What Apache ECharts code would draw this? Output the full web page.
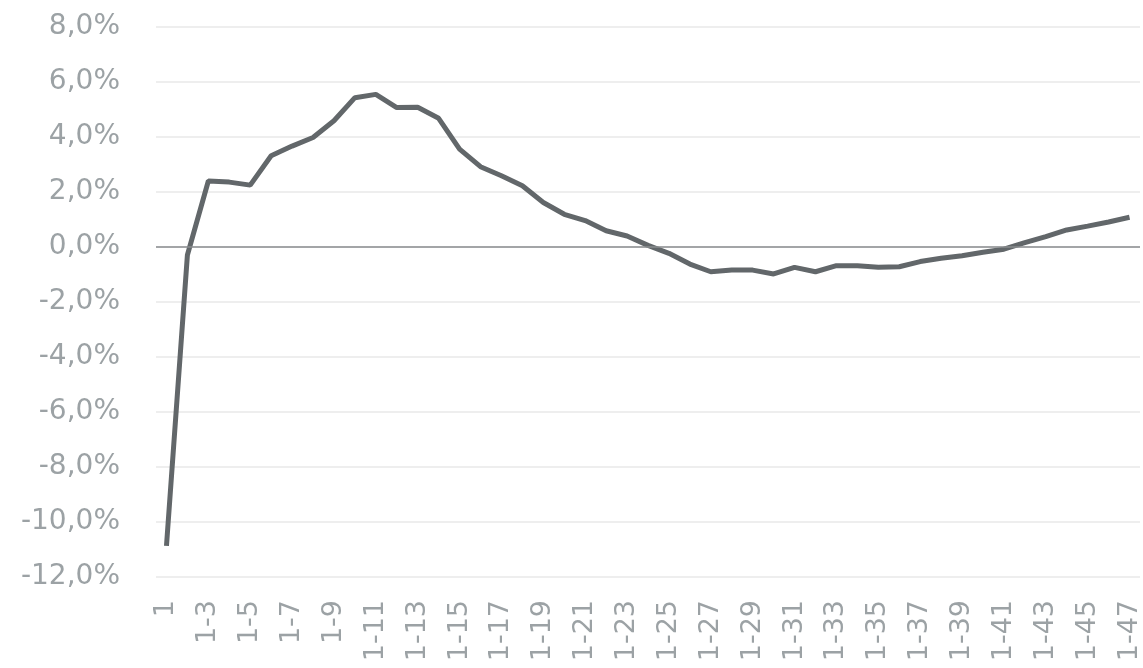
<!DOCTYPE html>
<html>
<head>
<meta charset="utf-8">
<script src="https://cdn.jsdelivr.net/npm/echarts@6/dist/echarts.min.js"></script>
<style>html,body{margin:0;padding:0;background:#fff}#c{width:1143px;height:668px}</style>
</head>
<body>
<div id="c"></div>
<script>
const categories = ["1"];
for (let i = 2; i <= 47; i++) categories.push("1-" + i);

const values = [
  -10.87, -0.29, 2.40, 2.36, 2.25, 3.32, 3.67, 3.98, 4.59, 5.43,
  5.55, 5.07, 5.08, 4.68, 3.56, 2.92, 2.59, 2.23, 1.62, 1.19,
  0.96, 0.59, 0.40, 0.06, -0.23, -0.62, -0.90, -0.84, -0.84, -0.98,
  -0.74, -0.90, -0.68, -0.68, -0.74, -0.72, -0.53, -0.41, -0.32, -0.19,
  -0.08, 0.16, 0.38, 0.62, 0.76, 0.91, 1.08
];

const yMin = -12, yMax = 8, yStep = 2;

const chart = echarts.init(document.getElementById('c'), null, {renderer: 'canvas'});
chart.setOption({
  animation: false,
  backgroundColor: '#ffffff',
  grid: {left: 156, right: 0, top: 27, bottom: 91, containLabel: false},
  xAxis: {
    type: 'category',
    data: categories,
    boundaryGap: true,
    axisLine: {show: false},
    axisTick: {show: false},
    axisLabel: {
      interval: 1,
      rotate: 90,
      margin: 23,
      color: '#9ca2a5',
      fontFamily: 'DejaVu Sans',
      fontSize: 27
    }
  },
  yAxis: {
    type: 'value',
    min: yMin, max: yMax, interval: yStep,
    axisLine: {show: false},
    axisTick: {show: false},
    splitLine: {lineStyle: {color: '#e8e8e8', width: 1.5}},
    axisLabel: {
      margin: 36,
      color: '#9ca2a5',
      fontFamily: 'DejaVu Sans',
      fontSize: 28,
      formatter: v => v.toFixed(1).replace('.', ',') + '%'
    }
  },
  series: [{
    type: 'line',
    data: values,
    symbol: 'none',
    lineStyle: {color: '#62676a', width: 5},
    markLine: {
      silent: true,
      symbol: 'none',
      label: {show: false},
      lineStyle: {color: '#8a8d8f', width: 1.5, type: 'solid'},
      data: [{yAxis: 0}]
    },
    z: 3
  }]
});
</script>
</body>
</html>
